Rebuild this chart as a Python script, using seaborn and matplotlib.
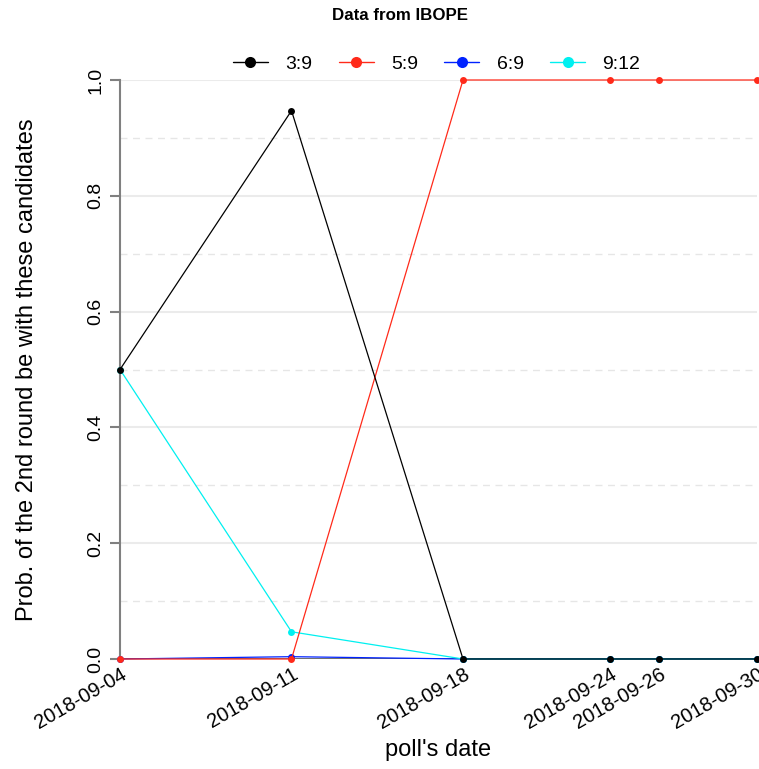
import pandas as pd
import matplotlib.pyplot as plt
import matplotlib.dates as mdates
from matplotlib.lines import Line2D
import seaborn as sns

# --------------------------- DATA ---------------------------
poll_dates = ["2018-09-04", "2018-09-11", "2018-09-18", "2018-09-24", "2018-09-26", "2018-09-30"]
pair_39 = [0.50, 0.947, 0.0, 0.0, 0.0, 0.0]
pair_59 = [0.0, 0.0, 1.0, 1.0, 1.0, 1.0]
pair_69 = [0.0, 0.004, 0.0, 0.0, 0.0, 0.0]
pair_912 = [0.50, 0.047, 0.0, 0.0, 0.0, 0.0]

series = {"3:9": pair_39, "5:9": pair_59, "6:9": pair_69, "9:12": pair_912}
palette = {"3:9": "black", "5:9": "#ff2a1a", "6:9": "#0022ff", "9:12": "#00f0f0"}
legend_order = ["3:9", "5:9", "6:9", "9:12"]
draw_order = ["6:9", "9:12", "5:9", "3:9"]

df = pd.DataFrame({"date": pd.to_datetime(poll_dates), **series})
df_long = df.melt(id_vars="date", var_name="pair", value_name="prob")

# --------------------------- SETTINGS ---------------------------
sns.set_style("white")
plt.rcParams["font.family"] = ["Liberation Sans", "DejaVu Sans"]
plt.rcParams.update({"text.color": "black", "axes.labelcolor": "black",
                     "xtick.color": "black", "ytick.color": "black"})

fig = plt.figure(figsize=(7.59, 7.69), dpi=100)
ax = fig.add_axes([120 / 759, 1 - 659 / 769, (757 - 120) / 759, (659 - 80) / 769])

# grid
for y in [0.1, 0.3, 0.5, 0.7, 0.9]:
    ax.axhline(y, color="#e6e6e6", lw=1, ls=(0, (5, 4)), zorder=0)
for y in [0.2, 0.4, 0.6, 0.8, 1.0]:
    ax.axhline(y, color="#ebebeb", lw=1.5, zorder=0)

for name in draw_order:
    sub = df_long[df_long["pair"] == name]
    sns.lineplot(data=sub, x="date", y="prob", color=palette[name], marker="o",
                 markersize=5, markeredgewidth=0, linewidth=0.9, ax=ax,
                 clip_on=False, legend=False, zorder=3)

ax.set_xlim(df["date"].iloc[0], df["date"].iloc[-1])
ax.set_ylim(0, 1)
ax.set_yticks([0, 0.2, 0.4, 0.6, 0.8, 1.0])
ax.set_yticklabels(["0.0", "0.2", "0.4", "0.6", "0.8", "1.0"], rotation=90, va="center", fontsize=14)
ax.set_xticks(df["date"])
ax.xaxis.set_major_formatter(mdates.DateFormatter("%Y-%m-%d"))
plt.setp(ax.get_xticklabels(), rotation=30, ha="right", rotation_mode="anchor", fontsize=14.5)
ax.tick_params(axis="x", length=0, pad=4)
ax.tick_params(axis="y", length=7, width=1.5, color="gray", left=True, pad=4)

for s in ["top", "right", "bottom"]:
    ax.spines[s].set_visible(False)
ax.spines["left"].set_color("gray")
ax.spines["left"].set_linewidth(1.5)
ax.axhline(0, color="#555555", lw=1.2, zorder=1)

ax.set_xlabel("poll's date", fontsize=17, labelpad=5)
ax.set_ylabel("Prob. of the 2nd round be with these candidates", fontsize=17, labelpad=36)
fig.text(0.5 + 20 / 759, 1 - 15 / 769, "Data from IBOPE", ha="center", va="center",
         fontsize=12.2, fontweight="bold")

handles = [Line2D([], [], color=palette[k], marker="o", markersize=8, markeredgewidth=0, lw=1)
           for k in legend_order]
ax.legend(handles, legend_order, ncol=4, frameon=False,
          loc="center", bbox_to_anchor=(0.497, 1.027), fontsize=14,
          handlelength=1.8, columnspacing=1.35, handletextpad=0.9)

plt.savefig("out.png", dpi=100)
